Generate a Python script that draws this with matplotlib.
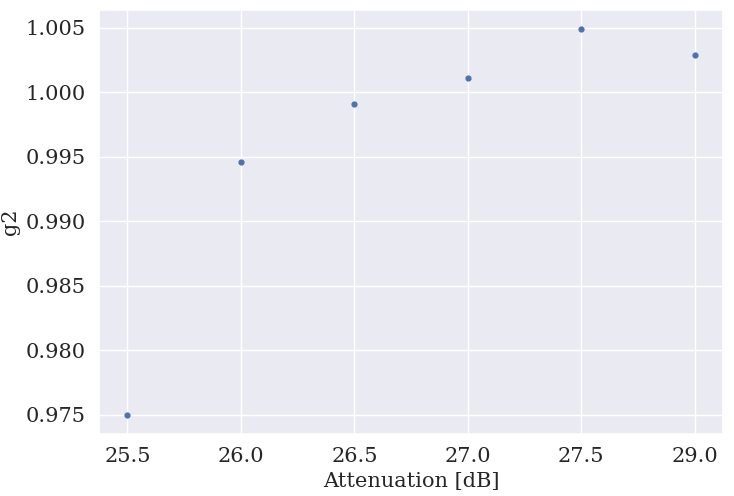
import matplotlib
matplotlib.use("Agg")
import matplotlib.pyplot as plt
import seaborn as sns

sns.set_theme(style="darkgrid")
plt.rcParams['font.family'] = ['DejaVu Serif']

attenuation = ["25.5", "26.0", "26.5", "27.0", "27.5", "29.0"]
g2 = [0.9750, 0.9946, 0.9991, 1.0011, 1.0049, 1.0029]

fig, ax = plt.subplots(figsize=(7.34, 4.96), dpi=100)
ax.scatter(attenuation, g2, s=12, color="#4c72b0", zorder=3)
ax.set_xlabel("Attenuation [dB]", fontsize=15)
ax.set_ylabel("g2", fontsize=15)
ax.tick_params(labelsize=15)
ax.set_yticks([0.975, 0.980, 0.985, 0.990, 0.995, 1.000, 1.005])
ax.set_yticklabels(["0.975", "0.980", "0.985", "0.990", "0.995", "1.000", "1.005"])
fig.subplots_adjust(left=0.135, right=0.985, top=0.98, bottom=0.125)
fig.savefig("out.png")
